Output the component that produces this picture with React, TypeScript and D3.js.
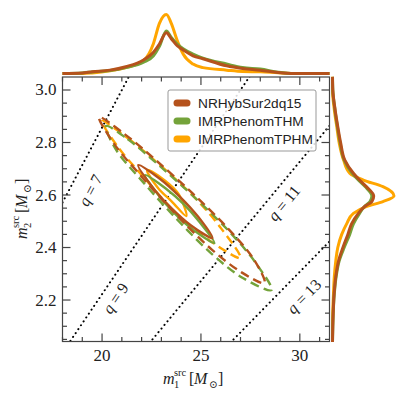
import React from "react";
import * as d3 from "d3";

const W = 407;
const H = 398;

const models = ["NRHybSur2dq15", "IMRPhenomTHM", "IMRPhenomTPHM"];
const colors = ["#b5521c", "#74a33a", "#ffa500"];

// top marginal, m1 grid and densities (peak of TPHM = 1)
const m1Grid = [18, 19, 19.5, 20.4, 21.2, 22.1, 22.6, 22.9, 23.25, 23.5, 23.8, 24.1, 24.6, 25.1, 26.3, 27.1, 28, 28.9, 29.7, 31.5];
const m1NR = [0, 0.01, 0.03, 0.057, 0.115, 0.23, 0.36, 0.5, 0.69, 0.59, 0.47, 0.4, 0.3, 0.25, 0.13, 0.086, 0.057, 0.017, 0, 0];
const m1THM = [0, 0.01, 0.025, 0.05, 0.1, 0.19, 0.3, 0.46, 0.72, 0.61, 0.5, 0.42, 0.33, 0.26, 0.16, 0.1, 0.075, 0.023, 0, 0];
const m1TPHM = [0, 0, 0.01, 0.046, 0.1, 0.22, 0.51, 0.85, 1.0, 0.85, 0.56, 0.33, 0.16, 0.1, 0.057, 0.034, 0.029, 0.011, 0, 0];

// right marginal, m2 grid and densities
const m2Grid = [2.04, 2.1, 2.225, 2.29, 2.35, 2.4, 2.45, 2.49, 2.53, 2.556, 2.575, 2.596, 2.632, 2.657, 2.683, 2.733, 2.797, 2.86, 2.924, 3.0, 3.05];
const m2NR = [0, 0.005, 0.027, 0.054, 0.1, 0.17, 0.25, 0.31, 0.42, 0.52, 0.64, 0.67, 0.55, 0.44, 0.34, 0.2, 0.134, 0.086, 0.043, 0.005, 0];
const m2THM = [0, 0.005, 0.03, 0.06, 0.11, 0.19, 0.28, 0.34, 0.44, 0.52, 0.61, 0.64, 0.53, 0.42, 0.32, 0.19, 0.125, 0.08, 0.04, 0.005, 0];
const m2TPHM = [0, 0, 0.016, 0.03, 0.054, 0.086, 0.15, 0.23, 0.34, 0.55, 0.82, 1.0, 0.82, 0.5, 0.28, 0.18, 0.11, 0.07, 0.03, 0, 0];

// credible contours, [m1, m2] points (50% solid, 90% dashed)
const nr50: [number, number][] = [[21.83, 2.714], [22.92, 2.662], [23.94, 2.593], [24.89, 2.514], [25.58, 2.436], [24.5, 2.484], [23.44, 2.555], [22.53, 2.632]];
const nr90: [number, number][] = [[19.85, 2.897], [21.14, 2.832], [22.7, 2.734], [24.58, 2.606], [26.37, 2.472], [27.68, 2.354], [28.21, 2.265], [27.04, 2.306], [25.43, 2.4], [23.63, 2.535], [21.93, 2.676], [20.62, 2.794]];
const thm50: [number, number][] = [[22.18, 2.676], [23.22, 2.625], [24.13, 2.565], [24.94, 2.496], [25.68, 2.417], [24.58, 2.469], [23.67, 2.53], [22.87, 2.598]];
const thm90: [number, number][] = [[20.2, 2.863], [21.29, 2.813], [22.85, 2.715], [24.73, 2.587], [26.53, 2.453], [27.83, 2.335], [28.57, 2.238], [27.14, 2.283], [25.53, 2.377], [23.73, 2.512], [22.03, 2.653], [20.72, 2.771]];
const tphm50: [number, number][] = [[22.28, 2.695], [23.17, 2.655], [23.89, 2.601], [24.26, 2.52], [23.54, 2.574], [22.82, 2.628]];
const tphm90: [number, number][] = [[20.0, 2.882], [21.29, 2.817], [22.85, 2.719], [24.7, 2.589], [26.02, 2.473], [27.0, 2.36], [25.43, 2.427], [23.83, 2.524], [22.08, 2.67], [20.77, 2.786]];

const qValues = [7, 9, 11, 13];
const qLabelPos: [number, number][] = [[19.39, 2.619], [20.66, 2.208], [29.18, 2.57], [30.19, 2.215]];

const xMajor = [20, 25, 30];
const yMajor = [2.2, 2.4, 2.6, 2.8, 3.0];
const xMinor = d3.range(18, 32, 1).filter((v) => !xMajor.includes(v));
const yMinor = d3.range(2.05, 3.05, 0.05).filter((v) => !yMajor.some((m) => Math.abs(m - v) < 1e-6));

const L = 62.5, R = 329.5, T = 77, B = 341.5;
const xS = d3.scaleLinear().domain([18, 31.5]).range([L, R]);
const yS = d3.scaleLinear().domain([2.042, 3.0495]).range([B, T]);
const topS = d3.scaleLinear().domain([0, 1]).range([73.5, 14.5]);
const rightS = d3.scaleLinear().domain([0, 1]).range([332.5, 394]);

const axisCol = "#444";
const serif = "'Liberation Serif', 'DejaVu Serif', serif";

function MathLabel({ cx, cy, sub, rotate }: { cx: number; cy: number; sub: string; rotate?: boolean }) {
  const tr = rotate ? `translate(${cx},${cy}) rotate(-90)` : `translate(${cx},${cy})`;
  return (
    <g transform={tr} fill="#222" fontFamily={serif}>
      <text x={-32} y={0} fontSize={16} fontStyle="italic">m</text>
      <text x={-21} y={-8} fontSize={10.5}>src</text>
      <text x={-21} y={3.5} fontSize={10.5}>{sub}</text>
      <text x={-6} y={0} fontSize={16}>[</text>
      <text x={-1} y={0} fontSize={16} fontStyle="italic">M</text>
      <text x={14} y={3.5} fontSize={10.5}>⊙</text>
      <text x={23} y={0} fontSize={16}>]</text>
    </g>
  );
}

export default function App() {
  const topLine = d3.line<number>().x((_, i) => xS(m1Grid[i])).y((d) => topS(d)).curve(d3.curveMonotoneX);
  const rightLine = d3.line<number>().x((d) => rightS(d)).y((_, i) => yS(m2Grid[i])).curve(d3.curveMonotoneY);
  const contour = d3.line<[number, number]>().x((d) => xS(d[0])).y((d) => yS(d[1])).curve(d3.curveCatmullRomClosed.alpha(0.5));

  const tops = [m1TPHM, m1THM, m1NR];
  const rights = [m2TPHM, m2THM, m2NR];
  const topCols = [colors[2], colors[1], colors[0]];
  const sets = [
    { c: colors[2], d50: tphm50, d90: tphm90 },
    { c: colors[1], d50: thm50, d90: thm90 },
    { c: colors[0], d50: nr50, d90: nr90 },
  ];

  return (
    <svg width={W} height={H} style={{ position: "absolute", left: 0, top: 0, background: "#fff" }}>
      <defs>
        <clipPath id="main">
          <rect x={L} y={T} width={R - L} height={B - T} />
        </clipPath>
      </defs>

      {/* marginals */}
      {tops.map((d, i) => (
        <path key={"t" + i} d={topLine(d) || ""} fill="none" stroke={topCols[i]} strokeWidth={3} />
      ))}
      {rights.map((d, i) => (
        <path key={"r" + i} d={rightLine(d) || ""} fill="none" stroke={topCols[i]} strokeWidth={3} />
      ))}

      {/* q lines */}
      <g clipPath="url(#main)">
        {qValues.map((q) => (
          <line key={q} x1={xS(18)} y1={yS(18 / q)} x2={xS(31.5)} y2={yS(31.5 / q)}
            stroke="#000" strokeWidth={2} strokeDasharray="0.1 4.6" strokeLinecap="round" />
        ))}
        {sets.map((s, i) => (
          <g key={"c" + i}>
            <path d={contour(s.d90) || ""} fill="none" stroke={s.c} strokeWidth={2.4} strokeDasharray="9 5" />
            <path d={contour(s.d50) || ""} fill="none" stroke={s.c} strokeWidth={2.4} />
          </g>
        ))}
      </g>

      {qValues.map((q, i) => {
        const ang = (Math.atan(((yS(0) - yS(1)) / (xS(1) - xS(0))) / q) * 180) / Math.PI;
        const [px, py] = qLabelPos[i];
        return (
          <text key={"q" + q} transform={`translate(${xS(px)},${yS(py)}) rotate(${-ang})`} textAnchor="middle"
            dominantBaseline="central" fontFamily={serif} fontSize={16} fill="#222">
            <tspan fontStyle="italic">q</tspan>
            <tspan> = {q}</tspan>
          </text>
        );
      })}

      {/* legend */}
      <g>
        <rect x={168} y={90} width={148} height={61} fill="#fff" fillOpacity={0.85} stroke="#999" strokeWidth={1} rx={2} />
        {models.map((m, i) => (
          <g key={m} transform={`translate(0,${103 + i * 18})`}>
            <line x1={177} x2={187} y1={0} y2={0} stroke={colors[i]} strokeWidth={7} strokeLinecap="round" />
            <text x={198} y={4.8} fontFamily="'Liberation Sans', Arial, sans-serif" fontSize={13.7} fill="#222">{m}</text>
          </g>
        ))}
      </g>

      {/* axes frame and ticks */}
      <g stroke={axisCol} strokeWidth={1.2}>
        <rect x={L} y={T} width={R - L} height={B - T} fill="none" />
        {xMajor.map((v) => (
          <g key={"xM" + v}>
            <line x1={xS(v)} x2={xS(v)} y1={B} y2={B - 8} />
            <line x1={xS(v)} x2={xS(v)} y1={T} y2={T + 8} />
          </g>
        ))}
        {xMinor.map((v) => (
          <g key={"xm" + v}>
            <line x1={xS(v)} x2={xS(v)} y1={B} y2={B - 4.5} />
            <line x1={xS(v)} x2={xS(v)} y1={T} y2={T + 4.5} />
          </g>
        ))}
        {yMajor.map((v) => (
          <g key={"yM" + v}>
            <line x1={L} x2={L + 8} y1={yS(v)} y2={yS(v)} />
            <line x1={R} x2={R - 8} y1={yS(v)} y2={yS(v)} />
          </g>
        ))}
        {yMinor.map((v) => (
          <g key={"ym" + v}>
            <line x1={L} x2={L + 4.5} y1={yS(v)} y2={yS(v)} />
            <line x1={R} x2={R - 4.5} y1={yS(v)} y2={yS(v)} />
          </g>
        ))}
      </g>
      <g fontFamily={serif} fontSize={17} fill="#222">
        {xMajor.map((v) => (
          <text key={"xl" + v} x={xS(v)} y={B + 19} textAnchor="middle">{v}</text>
        ))}
        {yMajor.map((v) => (
          <text key={"yl" + v} x={L - 6} y={yS(v)} textAnchor="end" dominantBaseline="central">{v.toFixed(1)}</text>
        ))}
      </g>

      <MathLabel cx={195} cy={384} sub="1" />
      <MathLabel cx={27} cy={207} sub="2" rotate />
    </svg>
  );
}
